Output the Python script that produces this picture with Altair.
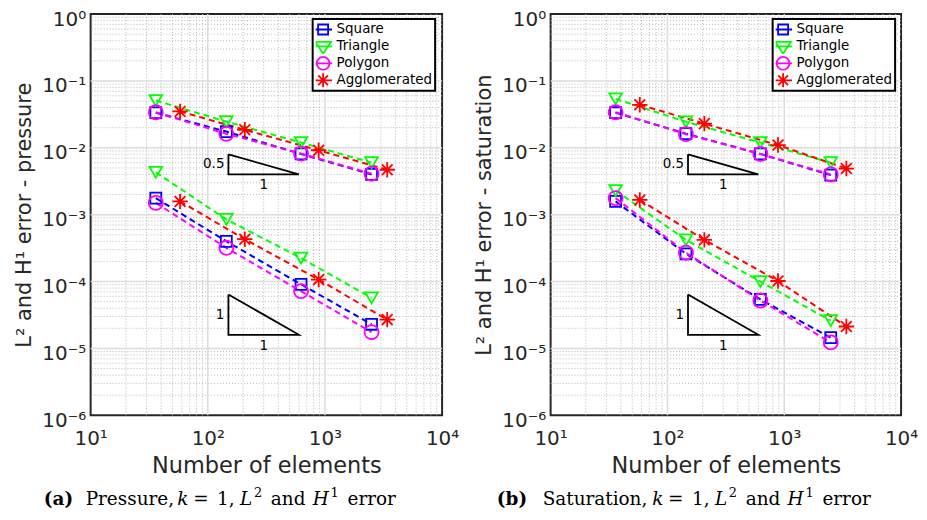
import altair as alt
import pandas as pd

# ---------------- data ----------------
series_names = ["Square", "Triangle", "Polygon", "Agglomerated"]
series_colors = ["#0000ff", "#00ff00", "#ff00ff", "#ff0000"]

x_regular = [36, 144, 625, 2500]
x_agglo = [58, 207, 884, 3400]

# Pressure
p_h1_square = [0.0335, 0.0175, 0.0081, 0.0040]
p_h1_triangle = [0.051, 0.0246, 0.0120, 0.0060]
p_h1_polygon = [0.034, 0.0162, 0.0082, 0.0041]
p_h1_agglo = [0.035, 0.0186, 0.0092, 0.0047]
p_l2_square = [0.00177, 0.00040, 9.1e-5, 2.3e-5]
p_l2_triangle = [0.0043, 0.00085, 0.000225, 5.7e-5]
p_l2_polygon = [0.0015, 0.00032, 7.2e-5, 1.75e-5]
p_l2_agglo = [0.00158, 0.00043, 0.000107, 2.7e-5]

# Saturation
s_h1_square = [0.0335, 0.0163, 0.0081, 0.0039]
s_h1_triangle = [0.054, 0.0245, 0.0120, 0.0060]
s_h1_polygon = [0.034, 0.0160, 0.0081, 0.0040]
s_h1_agglo = [0.044, 0.0230, 0.0110, 0.0049]
s_l2_square = [0.00158, 0.00026, 5.4e-5, 1.45e-5]
s_l2_triangle = [0.0023, 0.00042, 0.000100, 2.6e-5]
s_l2_polygon = [0.00177, 0.00027, 5.2e-5, 1.23e-5]
s_l2_agglo = [0.00166, 0.00042, 0.000102, 2.13e-5]

x_tick_values = [10, 100, 1000, 10000]
x_tick_labels = ["10¹", "10²", "10³", "10⁴"]
y_tick_values = [1e-6, 1e-5, 1e-4, 1e-3, 1e-2, 1e-1, 1]
y_tick_labels = ["10⁻⁶", "10⁻⁵", "10⁻⁴", "10⁻³", "10⁻²", "10⁻¹", "10⁰"]

# slope triangles (vertices) and their labels
slope_tri_x = [150, 150, 600, 150]
slope_upper_y = [0.008, 0.004, 0.004, 0.008]
slope_lower_y = [6.4e-5, 1.6e-5, 1.6e-5, 6.4e-5]
slope_labels_left = [("0.5", 150, 0.00566), ("1", 150, 3.2e-5)]
slope_labels_below = [("1", 300, 0.004), ("1", 300, 1.6e-5)]

y_titles = ["L² and H¹ error - pressure", "L² and H¹ error - saturation"]
caption_a = [("(a)", 0, "bold"), ("Pressure,", 42, "normal"), ("k", 134, "italic"),
             ("=", 150, "normal"), ("1,", 174, "normal"), ("L", 197, "italic"),
             ("2", 211, "sup"), ("and", 228, "normal"), ("H", 270, "italic"),
             ("1", 288, "sup"), ("error", 305, "normal")]
caption_b = [("(b)", 0, "bold"), ("Saturation,", 46, "normal"), ("k", 156, "italic"),
             ("=", 172, "normal"), ("1,", 196, "normal"), ("L", 219, "italic"),
             ("2", 233, "sup"), ("and", 250, "normal"), ("H", 292, "italic"),
             ("1", 310, "sup"), ("error", 327, "normal")]


def make_df(h1, l2):
    rows = []
    for i, name in enumerate(series_names):
        xs = x_agglo if name == "Agglomerated" else x_regular
        for norm, vals in (("H1", h1[i]), ("L2", l2[i])):
            for xv, yv in zip(xs, vals):
                rows.append({"series": name, "norm": norm, "x": xv, "y": yv})
    return pd.DataFrame(rows)


df_p = make_df([p_h1_square, p_h1_triangle, p_h1_polygon, p_h1_agglo],
               [p_l2_square, p_l2_triangle, p_l2_polygon, p_l2_agglo])
df_s = make_df([s_h1_square, s_h1_triangle, s_h1_polygon, s_h1_agglo],
               [s_l2_square, s_l2_triangle, s_l2_polygon, s_l2_agglo])

tri_rows = []
for tid, ys in (("upper", slope_upper_y), ("lower", slope_lower_y)):
    for k, (xv, yv) in enumerate(zip(slope_tri_x, ys)):
        tri_rows.append({"tri": tid, "ord": k, "x": xv, "y": yv})
tri_df = pd.DataFrame(tri_rows)
lab_left_df = pd.DataFrame(slope_labels_left, columns=["t", "x", "y"])
lab_below_df = pd.DataFrame(slope_labels_below, columns=["t", "x", "y"])
# legend-only entries (kept outside the visible domain, clipped away)
legend_df = pd.DataFrame({"series": series_names, "x": [1] * 4, "y": [1e-9] * 4})

major_x = [100, 1000]
major_y = [1e-5, 1e-4, 1e-3, 1e-2, 1e-1]
minor_x = [m * 10 ** k for k in range(1, 4) for m in range(2, 10)]
minor_y = [m * 10.0 ** k for k in range(-6, 0) for m in range(2, 10)]

# ---------------- styling ----------------
AXIS_COLOR = "#262626"
FONT = "DejaVu Sans"
CAP_FONT = "DejaVu Serif"
ASTERISK = "M-1,0H1M0,-1V1M-0.7,-0.7L0.7,0.7M-0.7,0.7L0.7,-0.7"
LEG_SQUARE = "M-1.36,0H1.36M-0.76,-0.76H0.76V0.76H-0.76Z"
LEG_TRI = "M-1.36,0H1.36M-1.2,-0.7L1.2,-0.7L0,1.1Z"
LEG_CIRC = "M-1.36,0H1.36M-0.98,0A0.98,0.98 0 1,0 0.98,0A0.98,0.98 0 1,0 -0.98,0Z"
LEG_AST = "M-1.36,0H1.36M0,-1.06V1.06M-0.75,-0.75L0.75,0.75M-0.75,0.75L0.75,-0.75"

x_scale = alt.Scale(type="log", domain=[10, 10000], nice=False)
y_scale = alt.Scale(type="log", domain=[1e-6, 1], nice=False)
color_scale = alt.Scale(domain=series_names, range=series_colors)
shape_scale = alt.Scale(domain=series_names, range=["square", "triangle-down", "circle", ASTERISK])
legend_shape_scale = alt.Scale(domain=series_names, range=[LEG_SQUARE, LEG_TRI, LEG_CIRC, LEG_AST])
size_scale = alt.Scale(domain=series_names, range=[121, 240, 175, 170])

x_label_expr = "[" + ",".join(f"'{s}'" for s in x_tick_labels) + "][round(log(datum.value)/LN10) - 1]"
y_label_expr = "[" + ",".join(f"'{s}'" for s in y_tick_labels) + "][round(log(datum.value)/LN10) + 6]"


def x_axis():
    return alt.Axis(values=x_tick_values, labelExpr=x_label_expr, title="Number of elements",
                    grid=False, ticks=False, domain=False, labelFlush=False, labelOverlap=False,
                    labelFont=FONT, labelFontSize=20, labelColor=AXIS_COLOR, labelPadding=13,
                    titleFont=FONT, titleFontSize=22.5, titleFontWeight="normal",
                    titleColor=AXIS_COLOR, titlePadding=6)


def y_axis(title):
    return alt.Axis(values=y_tick_values, labelExpr=y_label_expr, title=title,
                    grid=False, ticks=False, domain=False, labelFlush=False, labelOverlap=False,
                    labelFont=FONT, labelFontSize=20, labelColor=AXIS_COLOR, labelPadding=5,
                    labelBaseline="middle", labelOffset=5,
                    titleFont=FONT, titleFontSize=21, titleFontWeight="normal",
                    titleColor=AXIS_COLOR, titlePadding=7)


legend_obj = alt.Legend(title=None, orient="none", legendX=223, legendY=5)


def caption_layers(pieces, start):
    layers = []
    for text, off, style in pieces:
        px = start + off
        kw = dict(text=text, font=CAP_FONT, fontSize=18.5, align="left",
                  baseline="alphabetic", color="black")
        py = 493
        if style == "bold":
            kw["fontWeight"] = "bold"
        elif style == "italic":
            kw["fontStyle"] = "italic"
        elif style == "sup":
            kw["fontSize"] = 13
            py = 485
        layers.append(alt.Chart(pd.DataFrame({"k": [0]})).mark_text(**kw)
                      .encode(x=alt.value(px), y=alt.value(py)))
    return layers


def panel(df, ytitle, caption, cap_start, width):
    xa = x_axis()
    ya = y_axis(ytitle)

    def X(f):
        return alt.X(f, type="quantitative", scale=x_scale, axis=xa)

    def Y(f):
        return alt.Y(f, type="quantitative", scale=y_scale, axis=ya)

    gx_minor = alt.Chart(pd.DataFrame({"x": minor_x})).mark_rule(
        color="#b8b8b8", strokeDash=[1, 2], strokeWidth=1).encode(x=X("x"))
    gy_minor = alt.Chart(pd.DataFrame({"y": minor_y})).mark_rule(
        color="#b8b8b8", strokeDash=[1, 2], strokeWidth=1).encode(y=Y("y"))
    gx_major = alt.Chart(pd.DataFrame({"x": major_x})).mark_rule(
        color="#dcdcdc", strokeWidth=1.5).encode(x=X("x"))
    gy_major = alt.Chart(pd.DataFrame({"y": major_y})).mark_rule(
        color="#dcdcdc", strokeWidth=1.5).encode(y=Y("y"))

    tri = alt.Chart(tri_df).mark_line(color="black", strokeWidth=1.8).encode(
        x=X("x"), y=Y("y"), detail="tri:N", order="ord:Q")
    tl = alt.Chart(lab_left_df).mark_text(font=FONT, fontSize=13.5, color="black",
                                          align="right", baseline="middle", dx=-4).encode(
        x=X("x"), y=Y("y"), text="t:N")
    tb = alt.Chart(lab_below_df).mark_text(font=FONT, fontSize=13.5, color="black",
                                           align="center", baseline="top", dy=4).encode(
        x=X("x"), y=Y("y"), text="t:N")

    lines = alt.Chart(df).mark_line(strokeDash=[6, 4], strokeWidth=2).encode(
        x=X("x"), y=Y("y"),
        color=alt.Color("series:N", scale=color_scale, legend=None),
        detail="norm:N", order="x:Q")
    points = alt.Chart(df).mark_point(filled=False, strokeWidth=1.8, opacity=1).encode(
        x=X("x"), y=Y("y"),
        color=alt.Color("series:N", scale=color_scale, legend=None),
        shape=alt.Shape("series:N", scale=shape_scale, legend=None),
        size=alt.Size("series:N", scale=size_scale, legend=None))
    leg = alt.Chart(legend_df).mark_point(filled=False, strokeWidth=1.8, opacity=1,
                                          size=174, clip=True).encode(
        x=X("x"), y=Y("y"),
        color=alt.Color("series:N", scale=color_scale, legend=legend_obj),
        shape=alt.Shape("series:N", scale=legend_shape_scale, legend=legend_obj))

    layers = [gx_minor, gy_minor, gx_major, gy_major, tri, tl, tb, lines, points, leg]
    layers += caption_layers(caption, cap_start)
    return alt.layer(*layers).resolve_scale(
        color="independent", shape="independent"
    ).properties(width=width, height=403)


pa = panel(df_p, y_titles[0], caption_a, -47, 353)
pb = panel(df_s, y_titles[1], caption_b, -54, 352)

chart = alt.hconcat(pa, pb, spacing=12).resolve_scale(
    color="independent", shape="independent", size="independent"
).resolve_legend(color="independent", shape="independent").properties(
    padding={"left": 4, "top": -1, "right": 0, "bottom": 0}
).configure_view(stroke=AXIS_COLOR, strokeWidth=2).configure_legend(
    strokeColor="black", strokeWidth=2, fillColor="white", padding=3,
    labelFont=FONT, labelFontSize=13.5, labelColor="black", labelOffset=6,
    rowPadding=2, clipHeight=15, symbolSize=174, symbolStrokeWidth=1.8
)

chart.save("out.html", embed_options={"renderer": "svg", "actions": False})
